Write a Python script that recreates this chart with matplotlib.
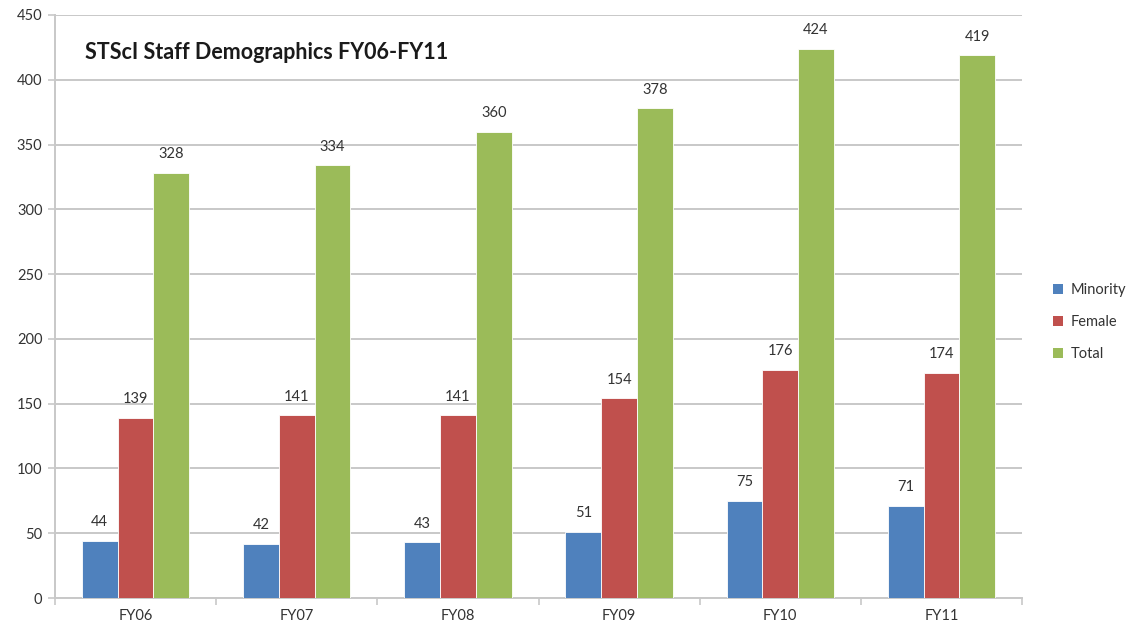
import matplotlib
matplotlib.use("Agg")
import matplotlib.pyplot as plt
import numpy as np
from matplotlib.patches import Patch

years = ["FY06", "FY07", "FY08", "FY09", "FY10", "FY11"]
minority = [44, 42, 43, 51, 75, 71]
female = [139, 141, 141, 154, 176, 174]
total = [328, 334, 360, 378, 424, 419]

series_names = ["Minority", "Female", "Total"]
colors = ["#4F81BD", "#C0504D", "#9BBB59"]

plt.rcParams["font.family"] = ["Lato", "DejaVu Sans"]

fig = plt.figure(figsize=(11.28, 6.30), dpi=100)
ax = fig.add_axes([55 / 1128, 32 / 630, (1022 - 55) / 1128, (598 - 15) / 630])

x = np.arange(len(years))
width = 0.222
grid_c = "#c8c8c8"
text_c = "#333333"

for i, (vals, col) in enumerate(zip([minority, female, total], colors)):
    pos = x + (i - 1) * width
    bars = ax.bar(pos, vals, width=width, color=col, edgecolor="white",
                  linewidth=0.6, zorder=3)
    for b, v in zip(bars, vals):
        ax.text(b.get_x() + b.get_width() / 2, v + 9, str(v), ha="center",
                va="bottom", fontsize=10.5, color=text_c)

ax.set_xlim(-0.5, len(years) - 0.5)
ax.set_ylim(0, 450)
ax.set_yticks(range(0, 451, 50))
ax.yaxis.grid(True, color=grid_c, linewidth=1.4, zorder=0)
ax.set_axisbelow(True)

# category labels centred, tick marks on boundaries
ax.set_xticks(x)
ax.set_xticklabels(years, fontsize=10.5, color=text_c)
ax.tick_params(axis="x", length=0, pad=8)
ax.set_xticks(np.arange(-0.5, len(years), 1.0), minor=True)
ax.tick_params(axis="x", which="minor", length=5, color=grid_c, width=1.2)
ax.tick_params(axis="y", length=5, color=grid_c, width=1.2, labelsize=10.5,
               labelcolor=text_c, pad=4)

for s in ["top", "right"]:
    ax.spines[s].set_visible(False)
for s in ["left", "bottom"]:
    ax.spines[s].set_color(grid_c)
    ax.spines[s].set_linewidth(1.4)

ax.text(0.031, 0.935, "STScI Staff Demographics FY06-FY11", transform=ax.transAxes,
        fontsize=15.5, fontweight="bold", color="#1a1a1a", va="center", ha="left")

handles = [Patch(facecolor=c, edgecolor="none") for c in colors]
fig.legend(handles, series_names, loc="center left",
           bbox_to_anchor=(1040 / 1128, 1 - 322 / 630), frameon=False,
           fontsize=10.5, handlelength=0.7, handleheight=0.7, handletextpad=0.5,
           labelspacing=1.22, labelcolor=text_c)

fig.savefig("out.png", dpi=100, facecolor="white")
